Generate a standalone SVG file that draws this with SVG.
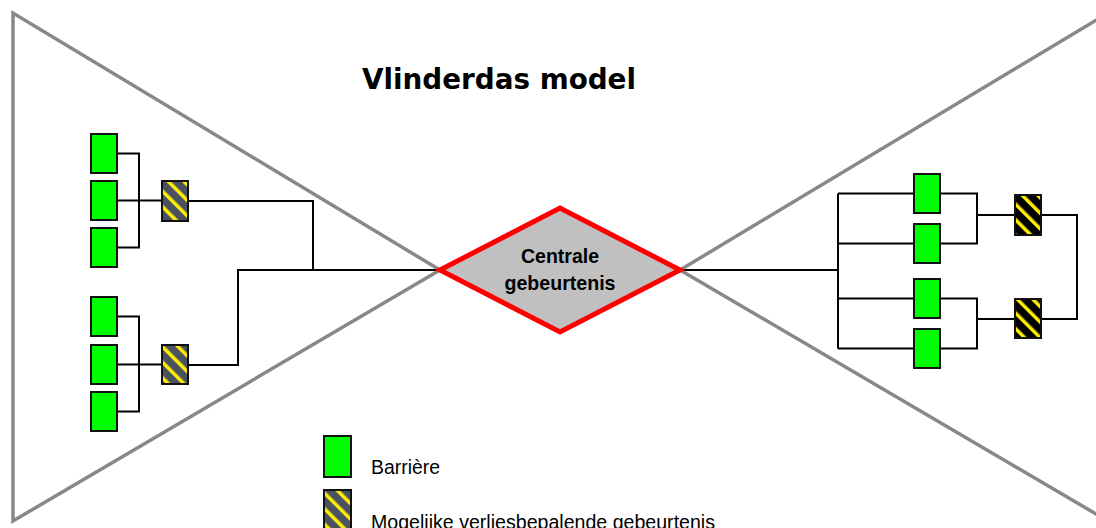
<svg xmlns="http://www.w3.org/2000/svg" width="1096" height="528" viewBox="0 0 1096 528">
<style>
.tri{fill:none;stroke:#888;stroke-width:3.5;stroke-linejoin:miter}
.con{fill:none;stroke:#000;stroke-width:2}
.bar{fill:#00ff00;stroke:#111;stroke-width:2}
.ev1{fill:url(#stripeSlate);stroke:#111;stroke-width:2}
.ev2{fill:url(#stripeBlack);stroke:#111;stroke-width:2}
.title{font-family:"DejaVu Sans",Verdana,sans-serif;font-weight:bold;font-size:27.8px;fill:#000}
.ctext{font-family:"Liberation Sans",Arial,sans-serif;font-weight:bold;font-size:21px;fill:#000}
.leg{font-family:"Liberation Sans",Arial,sans-serif;font-size:20.5px;fill:#000}
</style>
<defs>
<pattern id="stripeSlate" patternUnits="userSpaceOnUse" width="11" height="11" patternTransform="rotate(-45)">
<rect x="0" y="0" width="11" height="11" fill="#4a5262"/>
<rect x="0" y="0" width="3.5" height="11" fill="#ffee00"/>
</pattern>
<pattern id="stripeBlack" patternUnits="userSpaceOnUse" width="11" height="11" patternTransform="rotate(-45)">
<rect x="0" y="0" width="11" height="11" fill="#000"/>
<rect x="0" y="0" width="3.5" height="11" fill="#ffee00"/>
</pattern>
</defs>
<rect x="0" y="0" width="1096" height="528" fill="#fff"/>

<g id="bowtie">
<polyline class="tri" points="440,270 13,13 13,521 440,270"/>
<polyline class="tri" points="680,270 1108,13 1108,521 680,270"/>
</g>

<text id="title" class="title" x="499" y="89" text-anchor="middle">Vlinderdas model</text>

<g id="connectors">
<path class="con" d="M117,153.5 H139 V247.5 H117 M117,200.5 H162"/>
<path class="con" d="M188,201 H313 V270"/>
<path class="con" d="M117,316.5 H139 V411.5 H117 M117,364.5 H162"/>
<path class="con" d="M188,365 H238 V270 H440"/>
<path class="con" d="M680,270 H838 M838,193.5 V348.5"/>
<path class="con" d="M838,193.5 H914 M940,193.5 H977 V243.5 H940 M838,243.5 H914 M977,215 H1015"/>
<path class="con" d="M838,298.5 H914 M940,298.5 H977 V348.5 H940 M838,348.5 H914 M977,319 H1015"/>
<path class="con" d="M1041,215 H1077 V319 H1041"/>
</g>

<g id="central">
<polygon points="440,270 560,208 680,270 560,332" fill="#c0c0c0" stroke="#ff0000" stroke-width="5" stroke-linejoin="miter"/>
<text class="ctext" x="560" y="263" text-anchor="middle" textLength="78" lengthAdjust="spacingAndGlyphs">Centrale</text>
<text class="ctext" x="560" y="290" text-anchor="middle" textLength="111" lengthAdjust="spacingAndGlyphs">gebeurtenis</text>
</g>

<g id="left-top">
<rect id="b1" class="bar" x="91" y="134" width="26" height="39"/>
<rect id="b2" class="bar" x="91" y="181" width="26" height="39"/>
<rect id="b3" class="bar" x="91" y="228" width="26" height="39"/>
<rect id="e1" class="ev1" x="162" y="181" width="26" height="40"/>
</g>
<g id="left-bottom">
<rect id="b4" class="bar" x="91" y="297" width="26" height="39"/>
<rect id="b5" class="bar" x="91" y="345" width="26" height="39"/>
<rect id="b6" class="bar" x="91" y="392" width="26" height="39"/>
<rect id="e2" class="ev1" x="162" y="345" width="26" height="39"/>
</g>
<g id="right-side">
<rect id="b7" class="bar" x="914" y="174" width="26" height="39"/>
<rect id="b8" class="bar" x="914" y="224" width="26" height="39"/>
<rect id="b9" class="bar" x="914" y="279" width="26" height="39"/>
<rect id="b10" class="bar" x="914" y="329" width="26" height="39"/>
<rect id="e3" class="ev2" x="1015" y="195" width="26" height="40"/>
<rect id="e4" class="ev2" x="1015" y="299" width="26" height="39"/>
</g>

<g id="legend">
<rect class="bar" x="324" y="436" width="27" height="41"/>
<text class="leg" x="371" y="474" textLength="69" lengthAdjust="spacingAndGlyphs">Barrière</text>
<rect class="ev1" x="324" y="490" width="27" height="41"/>
<text class="leg" x="371" y="529" textLength="344" lengthAdjust="spacingAndGlyphs">Mogelijke verliesbepalende gebeurtenis</text>
</g>
</svg>
